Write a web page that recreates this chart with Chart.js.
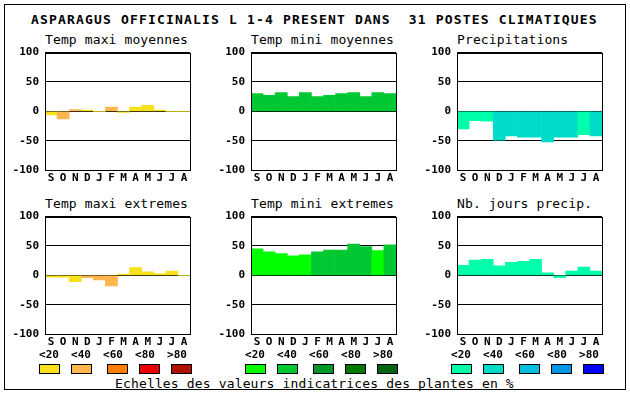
<!DOCTYPE html>
<html><head><meta charset="utf-8">
<script src="https://cdn.jsdelivr.net/npm/chart.js@4/dist/chart.umd.min.js"></script>
<style>
html,body{margin:0;padding:0;background:#fff;}
#root{position:relative;width:630px;height:394px;overflow:hidden;font-family:'DejaVu Sans Mono',monospace;color:#000;background:#fff;}
.frame{position:absolute;left:4px;top:4px;width:622px;height:386px;border:1px solid #000;box-sizing:border-box;}
.t{position:absolute;white-space:pre;line-height:1;}
canvas{position:absolute;}
.box{position:absolute;width:21px;height:10px;border:1px solid #000;box-sizing:border-box;}
</style></head><body><div id="root"><div class="frame"></div></div>
<script>
// ---- data ----
const mainTitle = 'ASPARAGUS OFFICINALIS L 1-4 PRESENT DANS  31 POSTES CLIMATIQUES';
const footerText = 'Echelles des valeurs indicatrices des plantes en %';
const months = ['S','O','N','D','J','F','M','A','M','J','J','A'];
const legendLabels = ['<20','<40','<60','<80','>80'];
const panelTitles = ['Temp maxi moyennes','Temp mini moyennes','Precipitations','Temp maxi extremes','Temp mini extremes','Nb. jours precip.'];

const tmaxMoy    = [-6,-13,3,2,0,7,-2,7,10,2,0,0];
const tmaxMoyCls = [0,1,1,0,0,1,0,0,0,0,0,0];
const tminMoy    = [30,27,32,25,32,25,27,30,32,25,32,30];
const tminMoyCls = [1,1,1,1,1,1,1,1,1,1,1,1];
const precip     = [-30,-16,-17,-49,-42,-44,-44,-52,-44,-44,-40,-42];
const precipCls  = [0,0,0,1,1,1,1,1,1,1,0,1];
const tmaxExt    = [-3,-3,-11,-4,-8,-18,2,13,6,3,7,0];
const tmaxExtCls = [0,0,0,1,1,1,0,0,0,0,0,0];
const tminExt    = [45,40,37,33,35,40,43,43,53,49,42,52];
const tminExtCls = [0,0,0,0,0,1,1,1,1,1,0,1];
const nbJours    = [17,26,27,16,22,24,27,4,-4,7,14,7];
const nbJoursCls = [0,0,0,0,0,0,0,0,0,0,0,0];

// ---- palettes ----
const warm  = ['#f9e21c','#ffb64c','#ff7d00','#ea0000','#b01000'];
const green = ['#00ff00','#00c832','#009628','#007800','#006414'];
const blue  = ['#00ffaa','#00dcc8','#00bedc','#0096e6','#0000ff'];

const panels = [
  {title:panelTitles[0], values:tmaxMoy, cls:tmaxMoyCls, pal:warm},
  {title:panelTitles[1], values:tminMoy, cls:tminMoyCls, pal:green},
  {title:panelTitles[2], values:precip,  cls:precipCls,  pal:blue},
  {title:panelTitles[3], values:tmaxExt, cls:tmaxExtCls, pal:warm},
  {title:panelTitles[4], values:tminExt, cls:tminExtCls, pal:green},
  {title:panelTitles[5], values:nbJours, cls:nbJoursCls, pal:blue}
];

const root = document.getElementById('root');
function addText(txt, left, top, font, extra){
  const d = document.createElement('div');
  d.className = 't';
  d.textContent = txt;
  d.style.left = left + 'px';
  d.style.top = top + 'px';
  d.style.font = font;
  if (extra) Object.assign(d.style, extra);
  root.appendChild(d);
  return d;
}

addText(mainTitle, 31, 12, "bold 13px 'DejaVu Sans Mono'", {letterSpacing:'1.17px'});
addText(footerText, 115, 376, "13px 'DejaVu Sans Mono'", {letterSpacing:'0.15px'});

const framePlugin = {
  id:'frameBox',
  afterDraw(chart){
    const {ctx, chartArea:a} = chart;
    ctx.save();
    ctx.strokeStyle = '#000';
    ctx.lineWidth = 1;
    ctx.strokeRect(Math.round(a.left)+0.5, Math.round(a.top)+0.5, Math.round(a.right-a.left), Math.round(a.bottom-a.top));
    ctx.restore();
  }
};

const labelCenters = [49,81,113,145,177];
const boxLefts = [39,71,107,139,171];

panels.forEach((p, i) => {
  const col = i % 3, row = Math.floor(i / 3);
  const ox = 206 * col, oy = 164 * row;
  addText(p.title, 45 + ox, 32 + oy, "13px 'DejaVu Sans Mono'", {letterSpacing:'0.12px'});

  const cv = document.createElement('canvas');
  cv.width = 200; cv.height = 150;
  cv.style.left = ox + 'px';
  cv.style.top = (40 + oy) + 'px';
  cv.style.width = '200px'; cv.style.height = '150px';
  root.appendChild(cv);

  new Chart(cv, {
    type:'bar',
    data:{
      labels: months,
      datasets:[{
        data: p.values,
        backgroundColor: p.cls.map(c => p.pal[c]),
        borderWidth:0,
        barPercentage:1,
        categoryPercentage:1
      }]
    },
    options:{
      responsive:false,
      animation:false,
      devicePixelRatio:1,
      layout:{padding:{top:10,right:10,bottom:4,left:0}},
      plugins:{legend:{display:false}, tooltip:{enabled:false}, title:{display:false}},
      scales:{
        x:{
          grid:{display:false, drawTicks:false},
          border:{display:false},
          ticks:{color:'#000', font:{family:'DejaVu Sans Mono', size:11, weight:'bold'}, padding:2, maxRotation:0, autoSkip:false},
          afterFit(s){ s.height = 16; }
        },
        y:{
          min:-100, max:100,
          z:1,
          grid:{color:'#000', lineWidth:1, drawTicks:false},
          border:{display:false},
          ticks:{stepSize:50, color:'#000', font:{family:'DejaVu Sans Mono', size:11, weight:'bold'}, padding:6},
          afterFit(s){ s.width = 45; }
        }
      }
    },
    plugins:[framePlugin]
  });

  if (row === 1) {
    legendLabels.forEach((lab, k) => {
      addText(lab, labelCenters[k] + ox - 15, 348, "bold 11px 'DejaVu Sans Mono'", {width:'30px', textAlign:'center'});
      const b = document.createElement('div');
      b.className = 'box';
      b.style.left = (boxLefts[k] + ox) + 'px';
      b.style.top = '364px';
      b.style.background = p.pal[k];
      root.appendChild(b);
    });
  }
});
</script>
</body></html>
